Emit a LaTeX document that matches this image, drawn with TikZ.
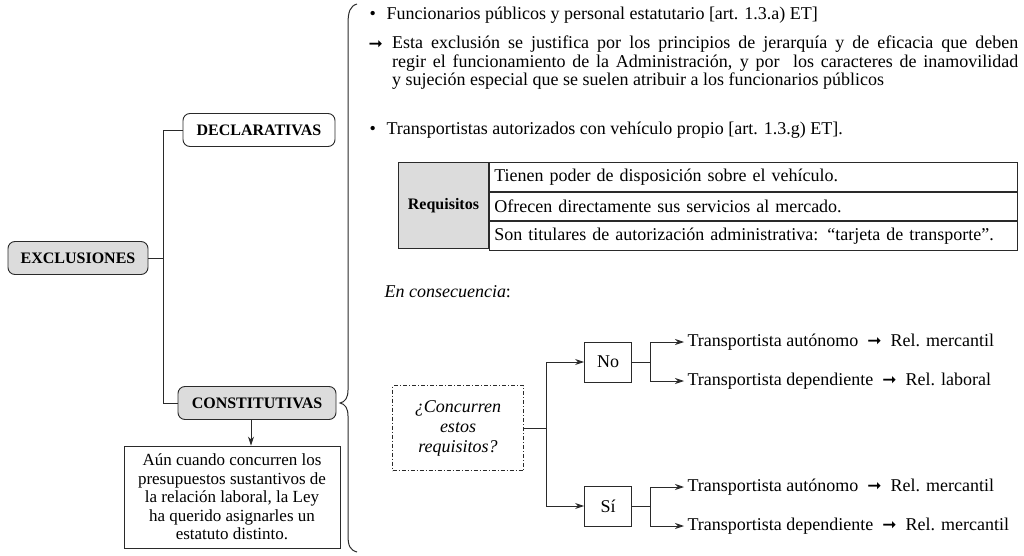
\documentclass[tikz,border=0pt]{standalone}
\usepackage{fontspec}
\setmainfont{Liberation Serif}
\newfontfamily\dejavu{DejaVu Sans}
\usetikzlibrary{positioning,arrows.meta}

\definecolor{boxgray}{HTML}{DCDCDC}
\definecolor{linegray}{HTML}{2A2A2A}
\newcommand{\flecha}{{\dejavu\fontsize{17}{17}\selectfont ➞}}
\newcommand{\vineta}{\makebox[17pt][l]{\textbullet}}

\tikzset{
  rama/.style={draw=linegray, line width=0.9pt, rounded corners=7pt,
    minimum height=33pt, font=\fontsize{16}{18}\selectfont\bfseries},
  grisbox/.style={rama, fill=boxgray},
  caja/.style={draw=linegray, line width=0.9pt},
  conector/.style={draw=linegray, line width=0.9pt},
  flechita/.style={conector, -{Stealth[length=9pt,width=6pt]}},
  fila/.style={caja, anchor=north west, text width=518pt, align=left,
    inner xsep=5pt, minimum height=28.67pt}
}

\begin{document}
\begin{tikzpicture}[x=1pt, y=-1pt, font=\fontsize{18}{18}\selectfont]
  \useasboundingbox (0,0) rectangle (1024,556);

  % arbol de la izquierda
  \node[grisbox, minimum width=140pt] (excl) at (78,258) {EXCLUSIONES};
  \node[rama, fill=white, minimum width=152pt] (decl) at (259,130) {DECLARATIVAS};
  \node[grisbox, minimum width=158pt] (const) at (257,403) {CONSTITUTIVAS};
  \node[caja, align=center, minimum width=216pt, minimum height=102pt,
    font=\fontsize{17}{18.5}\selectfont] (nota) at (232,497)
    {Aún cuando concurren los\\presupuestos sustantivos de\\la relación laboral, la Ley\\ha querido asignarles un\\estatuto distinto.};
  \coordinate (tronco) at (163,258);
  \draw[conector] (excl.east) -- (tronco) |- (decl.west);
  \draw[conector] (tronco) |- (const.west);
  \draw[flechita] ([xshift=-6pt]const.south) -- ([xshift=-6pt]const.south |- nota.north);

  % llave
  \draw[linegray, line width=1pt] (357,4) .. controls (350,6) and (348,12) .. (348,24)
    -- (348,390) .. controls (348,398) and (345,402) .. (340,403)
    .. controls (345,404) and (348,408) .. (348,416)
    -- (348,535) .. controls (348,546) and (350,550) .. (357,552);

  % declarativas
  \node[anchor=west] (func) at (366,15) {\vineta Funcionarios públicos y personal estatutario [art. 1.3.a) ET]};
  \node[anchor=west] (flec) at (365,45) {\flecha};
  \node[anchor=north west, align=left, inner sep=0pt, font=\fontsize{18}{18.5}\selectfont] (motivo) at (392,36)
    {\makebox[626pt][s]{Esta exclusión se justifica por los principios de jerarquía y de eficacia que deben}\\
     \makebox[626pt][s]{regir el funcionamiento de la Administración, y por\ \ los caracteres de inamovilidad}\\
     y sujeción especial que se suelen atribuir a los funcionarios públicos};

  % constitutivas
  \node[anchor=west] (transp) at (366,130) {\vineta Transportistas autorizados con vehículo propio [art. 1.3.g) ET].};
  \node[caja, fill=boxgray, anchor=north west, minimum width=90pt, minimum height=86pt,
    font=\fontsize{16}{18}\selectfont\bfseries] (req) at (398,162) {Requisitos};
  \node[fila] (req1) at (req.north east) {Tienen poder de disposición sobre el vehículo.};
  \node[fila] (req2) at (req1.south west) {Ofrecen directamente sus servicios al mercado.};
  \node[fila] (req3) at (req2.south west) {Son titulares de autorización administrativa: “tarjeta de transporte”.};

  \node[anchor=west] (consec) at (381,292) {\textit{En consecuencia}:};
  \node[caja, dash pattern=on 4pt off 2pt on 1pt off 2pt, minimum width=131pt, minimum height=85pt,
    align=center, font=\fontsize{18}{20}\selectfont\itshape] (pregunta) at (458,428) {¿Concurren\\estos\\requisitos?};
  \node[caja, minimum width=47pt, minimum height=40pt] (no) at (608,362) {No};
  \node[caja, minimum width=47pt, minimum height=40pt] (si) at (608,506) {Sí};
  \coordinate (bif) at (546,428);
  \draw[conector] (pregunta.east) -- (bif);
  \draw[flechita] (bif) |- (no.west);
  \draw[flechita] (bif) |- (si.west);

  \node[anchor=west] (noaut) at (684,342) {Transportista autónomo \ \flecha\ \ Rel. mercantil};
  \node[anchor=west] (nodep) at (684,381) {Transportista dependiente \ \flecha\ \ Rel. laboral};
  \node[anchor=west] (siaut) at (684,487) {Transportista autónomo \ \flecha\ \ Rel. mercantil};
  \node[anchor=west] (sidep) at (684,526) {Transportista dependiente \ \flecha\ \ Rel. mercantil};
  \coordinate (nobif) at (650,362);
  \coordinate (sibif) at (650,506);
  \draw[conector] (no.east) -- (nobif);
  \draw[flechita] (nobif) |- (noaut.west);
  \draw[flechita] (nobif) |- (nodep.west);
  \draw[conector] (si.east) -- (sibif);
  \draw[flechita] (sibif) |- (siaut.west);
  \draw[flechita] (sibif) |- (sidep.west);
\end{tikzpicture}
\end{document}
